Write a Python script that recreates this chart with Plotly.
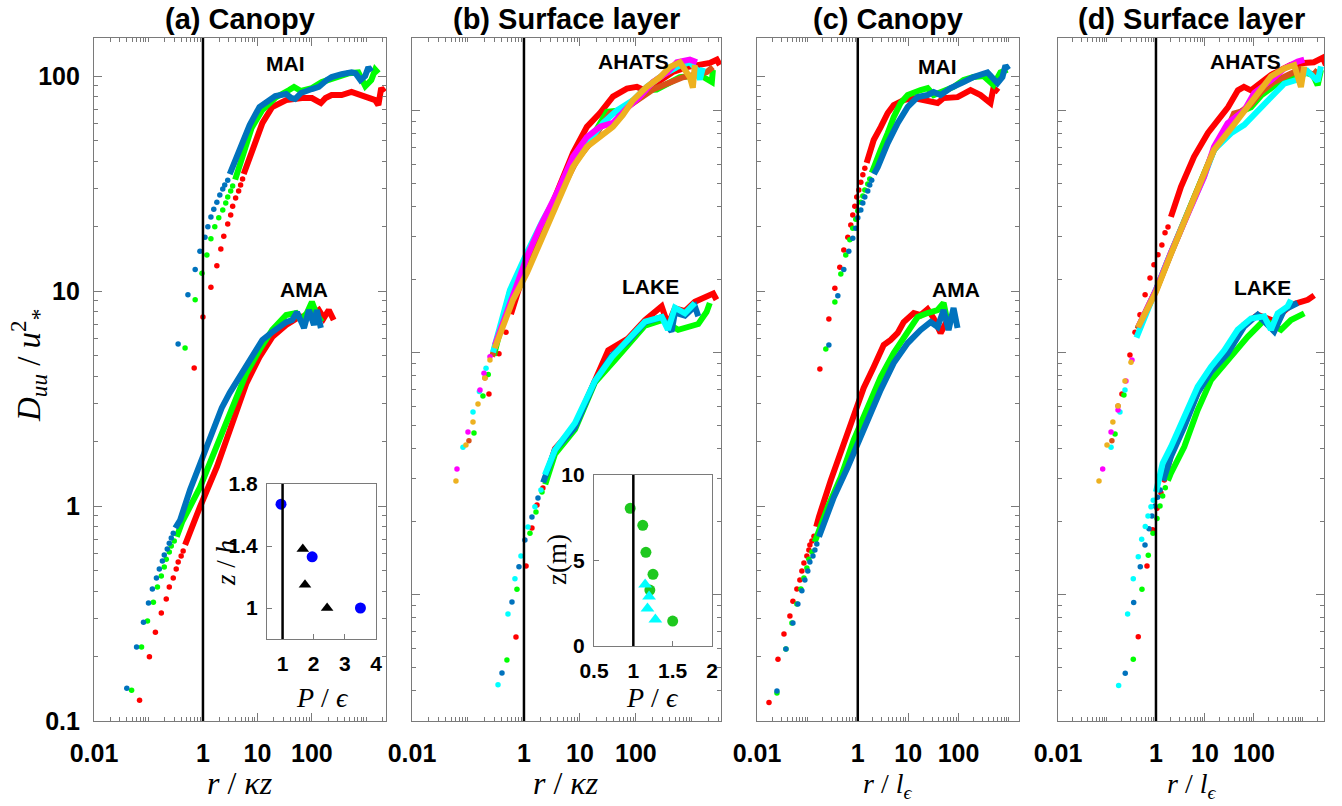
import plotly.graph_objects as go

# ---------------------------------------------------------------------------
# Structure functions D_uu/u*^2 : separate dots at small r, dense band after
# ---------------------------------------------------------------------------

# (a) Canopy, x = r/(kappa z) -- MAI
a_mai_red_dx = [0.69, 1.0, 1.40, 1.80, 2.13, 2.41, 2.85, 3.23, 3.51, 3.98, 4.52, 4.91, 5.34]
a_mai_red_dy = [4.38, 7.57, 10.4, 13.1, 15.7, 18.0, 20.5, 22.6, 24.8, 27.1, 29.2, 31.1, 33.2]
a_mai_red_lx = [5.6, 6.58, 8.8, 12.3, 18.7, 33.7, 65.8, 100, 146, 178, 230, 351, 533, 810, 1087, 1450, 1660, 1870, 2130]
a_mai_red_ly = [35.0, 39.4, 48.8, 60.4, 71.8, 77.3, 79.0, 79.0, 74.9, 79.0, 81.6, 81.6, 84.3, 81.6, 79.8, 77.3, 73.3, 87.9, 84.3]
a_mai_grn_dx = [0.47, 0.72, 0.96, 1.18, 1.40, 1.65, 1.95, 2.31, 2.62, 2.85, 3.23, 3.51]
a_mai_grn_dy = [5.43, 9.1, 12.1, 14.7, 17.5, 19.9, 21.9, 23.8, 25.7, 27.4, 29.2, 30.8]
a_mai_grn_lx = [3.9, 4.33, 5.8, 7.8, 12.3, 22.1, 38.2, 47, 63, 100, 152, 204, 310, 470, 712, 955, 1230, 1450, 1660]
a_mai_grn_ly = [33.0, 35.7, 45.3, 57.3, 69.5, 79.8, 86.1, 89.0, 85.2, 87.9, 93.8, 95.8, 98.9, 103, 104, 89.8, 95.8, 107, 103]
a_mai_blu_dx = [0.35, 0.53, 0.72, 0.88, 1.09, 1.23, 1.40, 1.58, 1.80, 2.04, 2.31, 2.51, 2.85]
a_mai_blu_dy = [5.67, 9.6, 12.6, 15.3, 17.8, 19.9, 22.1, 24.0, 25.9, 28.0, 29.8, 31.1, 32.8]
a_mai_blu_lx = [3.1, 3.5, 4.7, 7.2, 10.9, 16.5, 21.2, 33.7, 41.5, 49, 63, 100, 134, 187, 230, 351, 533, 631, 777, 950, 1087, 1230]
a_mai_blu_ly = [35.0, 37.7, 45.3, 59.2, 71.8, 77.3, 80.7, 82.5, 79.1, 78.2, 83.4, 87.0, 89.0, 95.8, 98.9, 102, 104, 103, 95.8, 100, 110, 105]

# (a) Canopy -- AMA
a_ama_red_dx = [0.0686, 0.104, 0.134, 0.172, 0.212, 0.241, 0.285, 0.323, 0.351, 0.398, 0.433]
a_ama_red_dy = [0.125, 0.199, 0.259, 0.318, 0.369, 0.42, 0.462, 0.509, 0.549, 0.585, 0.618]
a_ama_red_lx = [0.47, 0.533, 0.88, 1.80, 3.51, 6.3, 10.9, 18.7, 33.7, 58, 100, 134, 165, 204, 251]
a_ama_red_ly = [0.66, 0.718, 0.99, 1.52, 2.51, 3.73, 4.93, 6.11, 6.95, 7.57, 7.73, 8.16, 7.48, 8.16, 7.33]
a_ama_grn_dx = [0.049, 0.0746, 0.096, 0.123, 0.146, 0.172, 0.195, 0.212, 0.241, 0.262, 0.297]
a_ama_grn_dy = [0.139, 0.221, 0.292, 0.357, 0.42, 0.472, 0.52, 0.566, 0.611, 0.652, 0.687]
a_ama_grn_lx = [0.33, 0.415, 0.88, 1.80, 3.51, 6.3, 10.9, 18.7, 33.7, 51.2, 63, 81, 100, 123, 152]
a_ama_grn_ly = [0.72, 0.843, 1.22, 1.88, 2.89, 4.16, 5.32, 6.59, 7.73, 7.9, 7.33, 7.9, 8.9, 7.73, 7.17]
a_ama_blu_dx = [0.040, 0.0605, 0.081, 0.100, 0.118, 0.140, 0.158, 0.180, 0.195, 0.221, 0.241, 0.262, 0.285]
a_ama_blu_dy = [0.142, 0.221, 0.288, 0.354, 0.411, 0.462, 0.509, 0.555, 0.592, 0.631, 0.672, 0.710, 0.748]
a_ama_blu_lx = [0.31, 0.382, 0.58, 0.88, 1.52, 2.21, 3.10, 4.71, 8.1, 12.3, 18.7, 33.7, 43.3, 53.3, 71.6, 88.2, 109, 123, 146]
a_ama_blu_ly = [0.79, 0.861, 1.19, 1.55, 2.26, 2.86, 3.36, 3.98, 4.93, 5.92, 6.44, 7.17, 7.33, 7.98, 6.73, 8.16, 6.95, 8.16, 6.73]

# (b) Surface layer, x = r/(kappa z) -- AHATS
b_aha_red_dx = [0.237, 0.358, 0.477]
b_aha_red_dy = [6.73, 9.86, 12.1]
b_aha_red_lx = [0.586, 0.75, 1.13, 2.18, 4.4, 7.5, 13.3, 22.8, 38.8, 69, 104, 133, 201, 303, 458, 815, 1390, 2090, 2790, 3160]
b_aha_red_ly = [14.4, 17.5, 23.4, 33.0, 48.3, 66.7, 85.5, 97.5, 114, 123, 125, 122, 127, 136, 144, 151, 154, 157, 162, 154]
b_aha_grn_dx = [0.128, 0.185, 0.23]
b_aha_grn_dy = [4.65, 6.6, 8.1]
b_aha_grn_lx = [0.29, 0.562, 1.13, 2.18, 4.4, 8.8, 15.1, 30.3, 51.8, 88.3, 157, 234, 611, 1390, 2270, 2370]
b_aha_grn_ly = [9.7, 17.8, 25.0, 34.5, 46.0, 63.5, 75.0, 98.6, 100, 110, 121, 122, 137, 140, 131, 147]
b_aha_cyn_dx = [0.0814, 0.123, 0.16, 0.21]
b_aha_cyn_dy = [4.06, 5.67, 6.9, 8.6]
b_aha_cyn_lx = [0.28, 0.562, 1.13, 2.18, 4.4, 8.8, 15.1, 25.8, 45.8, 88.3, 157, 303, 540, 921, 1230, 1390, 1570]
b_aha_cyn_ly = [10.0, 18.1, 25.8, 35.2, 46.9, 64.3, 75.5, 88.7, 100, 110, 125, 140, 151, 158, 147, 134, 150]
b_aha_mag_dx = [0.0636, 0.1, 0.164, 0.193, 0.247]
b_aha_mag_dy = [3.30, 4.69, 7.0, 8.2, 9.6]
b_aha_mag_lx = [0.303, 0.637, 1.13, 1.93, 3.88, 7.5, 13.3, 22.8, 38.8, 69, 118, 201, 358, 540, 921, 1230]
b_aha_mag_ly = [10.7, 17.6, 24.8, 33.0, 45.6, 64.3, 77.6, 85.5, 88.7, 102, 114, 131, 143, 158, 162, 158]
b_aha_brn_dx = [0.104, 0.201]
b_aha_brn_dy = [4.31, 7.84]
b_aha_brn_lx = [0.27, 0.562, 1.13, 2.18, 4.4, 8.8, 15.1, 34.3, 51.8, 88.3, 201, 690, 1850, 2370]
b_aha_brn_ly = [9.6, 17.3, 24.5, 33.3, 44.8, 62.4, 73.0, 97.5, 98.4, 107, 122, 137, 144, 151]
b_aha_org_dx = [0.061, 0.092, 0.123, 0.151, 0.201, 0.247]
b_aha_org_dy = [2.94, 4.14, 5.16, 6.12, 7.84, 9.3]
b_aha_org_lx = [0.3, 0.637, 1.13, 2.18, 4.4, 7.5, 13.3, 22.8, 38.8, 58.6, 88.3, 157, 268, 405, 611, 921, 1040, 1130]
b_aha_org_ly = [10.4, 16.5, 21.3, 30.0, 42.7, 58.3, 70.6, 77.6, 85.5, 95.7, 110, 125, 137, 151, 158, 137, 124, 154]

# (b) Surface layer -- LAKE
b_lak_red_dx = [0.72, 1.09, 1.39, 1.71, 2.18]
b_lak_red_dy = [0.667, 1.31, 1.88, 2.34, 2.75]
b_lak_red_lx = [2.4, 3.58, 8.15, 18.5, 32, 72, 145, 288, 373, 497, 750, 1130, 1950, 2400, 2750]
b_lak_red_ly = [3.0, 4.0, 4.95, 7.8, 10.2, 11.4, 13.6, 15.5, 13.0, 15.2, 14.8, 16.2, 17.0, 17.5, 16.5]
b_lak_grn_dx = [0.497, 0.75, 1.28, 1.64, 2.10]
b_lak_grn_dy = [0.536, 1.05, 1.79, 2.19, 2.65]
b_lak_grn_lx = [2.4, 3.58, 8.15, 18.5, 42.2, 72, 145, 291, 569, 1300, 1830, 2090]
b_lak_grn_ly = [2.85, 3.8, 4.8, 7.5, 9.3, 10.8, 12.9, 13.6, 12.4, 13.1, 14.7, 16.0]
b_lak_blu_dx = [0.405, 0.611, 0.815, 1.04, 1.39, 1.78]
b_lak_blu_dy = [0.473, 0.93, 1.30, 1.68, 2.09, 2.50]
b_lak_blu_lx = [2.2, 3.58, 8.15, 18.5, 37.3, 72, 145, 291, 434, 497, 750, 1130, 1300]
b_lak_blu_ly = [2.9, 3.95, 4.9, 7.6, 9.7, 11.1, 13.3, 14.0, 12.2, 14.6, 14.2, 15.5, 14.1]
b_lak_cyn_dx = [0.344, 0.518, 0.69, 0.884, 1.18, 1.57, 2.01]
b_lak_cyn_dy = [0.423, 0.83, 1.16, 1.44, 1.90, 2.30, 2.70]
b_lak_cyn_lx = [2.37, 3.58, 8.15, 18.5, 37.3, 72, 145, 291, 373, 497, 750, 1130]
b_lak_cyn_ly = [3.12, 3.95, 5.11, 7.62, 9.57, 11.2, 13.4, 14.0, 12.4, 15.3, 14.5, 16.0]

# (c) Canopy, x = r/l_eps -- MAI
c_mai_red_dx = [0.177, 0.267, 0.351, 0.44, 0.528, 0.634, 0.727, 0.796, 0.873, 0.955, 1.05, 1.15, 1.26, 1.38]
c_mai_red_dy = [4.34, 7.41, 10.3, 12.9, 15.5, 17.8, 20.3, 22.6, 24.8, 27.4, 29.5, 32.1, 34.7, 37.3]
c_mai_red_lx = [1.5, 1.65, 2.07, 2.85, 3.93, 5.16, 8.15, 12.9, 24.3, 38.4, 50.5, 95.5, 173, 273, 430, 493, 620]
c_mai_red_ly = [39.5, 42.0, 50.4, 57.9, 67.3, 73.3, 77.3, 79.0, 77.3, 74.9, 79.0, 79.8, 86.1, 81.6, 74.9, 87.9, 84.3]
c_mai_grn_dx = [0.232, 0.351, 0.461, 0.578, 0.695, 0.796, 0.913, 1.0, 1.15, 1.26, 1.38, 1.58, 1.73]
c_mai_grn_dy = [5.37, 8.9, 12.0, 14.7, 17.3, 19.6, 21.6, 23.6, 25.9, 27.7, 29.5, 31.5, 33.2]
c_mai_grn_lx = [1.9, 2.07, 2.85, 3.93, 5.16, 7.1, 9.8, 17.7, 24.3, 32, 44, 79.6, 126, 198, 313, 493, 679, 933]
c_mai_grn_ly = [35.5, 37.7, 45.3, 54.3, 64.4, 74.9, 81.6, 86.1, 87.9, 81.6, 84.3, 89.0, 95.8, 98.9, 100, 90.8, 104, 107]
c_mai_blu_dx = [0.267, 0.402, 0.528, 0.664, 0.796, 0.913, 1.0, 1.15, 1.26, 1.38, 1.58, 1.73, 1.89]
c_mai_blu_dy = [5.61, 9.5, 12.6, 15.3, 17.6, 19.6, 21.9, 23.8, 25.7, 27.4, 29.2, 31.1, 32.8]
c_mai_blu_lx = [2.1, 2.49, 3.93, 6.2, 9.8, 15.4, 24.3, 32, 44, 69.5, 126, 198, 375, 592, 743, 853, 977]
c_mai_blu_ly = [35.0, 37.7, 48.8, 60.4, 71.8, 79.8, 81.6, 84.3, 81.6, 87.9, 93.8, 98.9, 104, 92.7, 98.9, 112, 107]

# (c) Canopy -- AMA
c_ama_red_dx = [0.0173, 0.0261, 0.0343, 0.045, 0.0516, 0.0619, 0.071, 0.0778, 0.0853, 0.0977, 0.107, 0.112, 0.123, 0.135]
c_ama_red_dy = [0.122, 0.194, 0.254, 0.308, 0.361, 0.411, 0.453, 0.499, 0.543, 0.585, 0.624, 0.659, 0.687, 0.724]
c_ama_red_lx = [0.15, 0.169, 0.292, 0.461, 0.727, 1.0, 1.31, 2.07, 3.27, 4.5, 6.2, 8.15, 12.9, 17.7, 24.3, 32, 44, 60.5]
c_ama_red_ly = [0.8, 0.889, 1.32, 1.77, 2.33, 2.88, 3.54, 4.43, 5.61, 5.92, 6.38, 7.17, 7.9, 7.73, 8.24, 7.48, 6.38, 7.33]
c_ama_grn_dx = [0.0249, 0.0375, 0.0493, 0.0619, 0.0743, 0.0853, 0.0977, 0.107, 0.123]
c_ama_grn_dy = [0.135, 0.216, 0.286, 0.35, 0.411, 0.462, 0.515, 0.566, 0.611]
c_ama_grn_lx = [0.14, 0.161, 0.255, 0.461, 0.834, 1.58, 2.85, 5.16, 9.8, 15.4, 24.3, 38.4, 50.5, 63.4]
c_ama_grn_ly = [0.68, 0.748, 0.99, 1.36, 2.03, 2.88, 3.98, 5.15, 6.38, 7.57, 7.9, 8.16, 8.8, 6.8]
c_ama_blu_dx = [0.0249, 0.0375, 0.0516, 0.0648, 0.0778, 0.0892, 0.102, 0.112, 0.129, 0.141, 0.154]
c_ama_blu_dy = [0.138, 0.216, 0.286, 0.35, 0.403, 0.453, 0.499, 0.549, 0.585, 0.624, 0.665]
c_ama_blu_lx = [0.17, 0.203, 0.335, 0.634, 1.0, 1.58, 2.85, 5.16, 9.8, 17.7, 27.9, 38.4, 50.5, 63.4, 79.6, 95.5]
c_ama_blu_ly = [0.72, 0.798, 1.10, 1.52, 1.96, 2.51, 3.47, 4.62, 5.73, 6.59, 7.17, 6.8, 8.16, 6.59, 8.34, 6.73]

# (d) Surface layer, x = r/l_eps -- AHATS
d_aha_red_dx = [0.202, 0.294, 0.373, 0.471, 0.6, 0.755, 0.91, 1.10, 1.32, 1.53, 1.76]
d_aha_red_dy = [6.73, 9.76, 12.1, 14.3, 17.3, 20.3, 23.0, 25.3, 27.8, 31.2, 33.0]
d_aha_red_lx = [2.02, 3.24, 5.97, 11.5, 18.4, 29.5, 47.1, 62.5, 86.8, 139, 222, 356, 569, 1050, 1670, 2560, 2950]
d_aha_red_ly = [36.3, 48.3, 64.3, 80.7, 91.2, 103, 121, 125, 121, 131, 140, 147, 154, 157, 158, 165, 154]
d_aha_grn_dx = [0.146, 0.222]
d_aha_grn_dy = [4.6, 6.67]
d_aha_grn_lx = [0.42, 1.0, 2.02, 4.5, 9.55, 15.3, 24.4, 39.1, 54.3, 86.8, 139, 256, 494, 910, 1600, 2000, 2330]
d_aha_grn_ly = [12.5, 18.1, 25.8, 37.7, 53.1, 68.7, 77.6, 90.0, 98.8, 103, 115, 126, 135, 145, 140, 127, 147]
d_aha_cyn_dx = [0.121, 0.184, 0.233]
d_aha_cyn_dy = [4.06, 5.67, 7.0]
d_aha_cyn_lx = [0.4, 1.0, 2.02, 4.5, 9.55, 15.3, 34.0, 63.4, 119, 222, 415, 780, 1250, 2000, 2330]
d_aha_cyn_ly = [11.5, 18.3, 25.8, 37.7, 53.1, 68.7, 80.4, 87.1, 100, 114, 129, 134, 145, 132, 152]
d_aha_mag_dx = [0.0817, 0.121, 0.168, 0.244, 0.324]
d_aha_mag_dy = [3.30, 4.69, 5.78, 7.62, 9.3]
d_aha_mag_lx = [0.43, 1.0, 2.02, 4.5, 9.55, 15.3, 29.0, 63.4, 101, 222, 415, 780, 1064]
d_aha_mag_ly = [12.7, 18.1, 25.8, 37.7, 53.1, 70.8, 88.5, 100, 118, 133, 149, 159, 162]
d_aha_brn_dx = [0.126, 0.168]
d_aha_brn_dy = [4.31, 6.01]
d_aha_brn_lx = [0.42, 1.0, 2.02, 4.5, 9.55, 15.3, 24.4, 39.1, 54.3, 86.8, 139, 256, 494, 910, 1640, 2000]
d_aha_brn_ly = [12.5, 18.0, 25.6, 37.5, 53.0, 68.5, 78.0, 97.0, 98.8, 106, 119, 131, 140, 148, 140, 147]
d_aha_org_dx = [0.0687, 0.1, 0.132, 0.168, 0.233, 0.309]
d_aha_org_dy = [2.94, 4.14, 5.16, 6.01, 7.62, 9.1]
d_aha_org_lx = [0.43, 1.0, 2.02, 4.5, 9.55, 15.3, 34.0, 63.4, 119, 222, 415, 664, 910, 1064]
d_aha_org_ly = [12.7, 17.8, 25.5, 37.5, 53.0, 68.7, 84.3, 100, 118, 138, 149, 154, 125, 152]

# (d) Surface layer -- LAKE
d_lak_red_dx = [0.435, 0.655, 0.857, 1.05, 1.26, 1.48]
d_lak_red_dy = [0.668, 1.31, 1.85, 2.27, 2.63, 2.97]
d_lak_red_lx = [1.7, 2.02, 3.72, 7.2, 13.3, 29.5, 62.5, 120, 250, 569, 1260, 1700]
d_lak_red_ly = [3.3, 3.77, 5.0, 6.87, 8.46, 10.2, 13.0, 14.3, 13.5, 15.7, 16.5, 17.2]
d_lak_grn_dx = [0.344, 0.518, 0.697, 0.869, 1.05, 1.21, 1.37, 1.55]
d_lak_grn_dy = [0.54, 1.05, 1.45, 1.79, 2.06, 2.32, 2.55, 2.76]
d_lak_grn_lx = [1.75, 2.02, 3.78, 7.1, 13.3, 34.0, 74.3, 162, 356, 569, 1064]
d_lak_grn_ly = [2.95, 3.17, 4.07, 5.78, 7.69, 9.6, 11.6, 13.6, 12.4, 13.6, 14.5]
d_lak_blu_dx = [0.236, 0.351, 0.478, 0.597, 0.72, 0.828, 0.955, 1.08, 1.22]
d_lak_blu_dy = [0.472, 0.927, 1.30, 1.60, 1.87, 2.11, 2.32, 2.52, 2.70]
d_lak_blu_lx = [1.4, 2.02, 3.78, 7.1, 13.3, 29.0, 63.4, 119, 259, 415, 780]
d_lak_blu_ly = [2.95, 3.71, 4.93, 6.78, 8.32, 9.9, 12.8, 14.3, 12.2, 15.0, 16.0]
d_lak_cyn_dx = [0.173, 0.264, 0.344, 0.435, 0.511, 0.605, 0.687, 0.791, 0.881]
d_lak_cyn_dy = [0.42, 0.83, 1.16, 1.43, 1.69, 1.91, 2.11, 2.30, 2.45]
d_lak_cyn_lx = [1.0, 1.37, 2.02, 3.78, 7.1, 13.3, 24.8, 46.5, 86.8, 162, 222, 305, 487, 569]
d_lak_cyn_ly = [2.65, 3.48, 4.07, 5.42, 7.21, 8.73, 10.2, 12.4, 13.8, 14.1, 12.4, 14.5, 15.5, 16.5]

# Insets: production/dissipation ratio vs height
ina_circ_p = [0.95, 1.95, 3.5]
ina_circ_z = [1.67, 1.33, 1.0]
ina_tri_p = [1.65, 1.72, 2.43]
ina_tri_z = [1.38, 1.15, 1.0]
inb_circ_p = [0.96, 1.12, 1.16, 1.25, 1.21, 1.50]
inb_circ_z = [8.05, 7.06, 5.48, 4.19, 3.27, 1.46]
inb_tri_p = [1.15, 1.20, 1.18, 1.28]
inb_tri_z = [3.6, 2.9, 2.2, 1.55]

# Axis tick labels
main_x_ticks = [0.01, 1, 10, 100]
main_x_text = ["0.01", "1", "10", "100"]
main_y_ticks = [0.1, 1, 10, 100]
main_y_text = ["0.1", "1", "10", "100"]

RED, GREEN, BLUE = "#ff0000", "#00ff00", "#0072bd"
CYAN, MAGENTA, BROWN, ORANGE = "#00ffff", "#ff00ff", "#d95319", "#edb120"

W, H = 1342, 806
fig = go.Figure()


def add_curve(xa, ya, dx, dy, lx, ly, color):
    fig.add_trace(go.Scatter(x=lx, y=ly, mode="lines", xaxis=xa, yaxis=ya,
                             line=dict(color=color, width=6), showlegend=False))
    fig.add_trace(go.Scatter(x=dx, y=dy, mode="markers", xaxis=xa, yaxis=ya,
                             marker=dict(color=color, size=5.5), showlegend=False))


# panel (a)
add_curve("x", "y", a_mai_red_dx, a_mai_red_dy, a_mai_red_lx, a_mai_red_ly, RED)
add_curve("x", "y", a_mai_grn_dx, a_mai_grn_dy, a_mai_grn_lx, a_mai_grn_ly, GREEN)
add_curve("x", "y", a_mai_blu_dx, a_mai_blu_dy, a_mai_blu_lx, a_mai_blu_ly, BLUE)
add_curve("x", "y", a_ama_red_dx, a_ama_red_dy, a_ama_red_lx, a_ama_red_ly, RED)
add_curve("x", "y", a_ama_grn_dx, a_ama_grn_dy, a_ama_grn_lx, a_ama_grn_ly, GREEN)
add_curve("x", "y", a_ama_blu_dx, a_ama_blu_dy, a_ama_blu_lx, a_ama_blu_ly, BLUE)
# panel (b)
add_curve("x2", "y2", b_aha_red_dx, b_aha_red_dy, b_aha_red_lx, b_aha_red_ly, RED)
add_curve("x2", "y2", b_aha_grn_dx, b_aha_grn_dy, b_aha_grn_lx, b_aha_grn_ly, GREEN)
add_curve("x2", "y2", b_aha_brn_dx, b_aha_brn_dy, b_aha_brn_lx, b_aha_brn_ly, BROWN)
add_curve("x2", "y2", b_aha_cyn_dx, b_aha_cyn_dy, b_aha_cyn_lx, b_aha_cyn_ly, CYAN)
add_curve("x2", "y2", b_aha_mag_dx, b_aha_mag_dy, b_aha_mag_lx, b_aha_mag_ly, MAGENTA)
add_curve("x2", "y2", b_aha_org_dx, b_aha_org_dy, b_aha_org_lx, b_aha_org_ly, ORANGE)
add_curve("x2", "y2", b_lak_red_dx, b_lak_red_dy, b_lak_red_lx, b_lak_red_ly, RED)
add_curve("x2", "y2", b_lak_grn_dx, b_lak_grn_dy, b_lak_grn_lx, b_lak_grn_ly, GREEN)
add_curve("x2", "y2", b_lak_blu_dx, b_lak_blu_dy, b_lak_blu_lx, b_lak_blu_ly, BLUE)
add_curve("x2", "y2", b_lak_cyn_dx, b_lak_cyn_dy, b_lak_cyn_lx, b_lak_cyn_ly, CYAN)
# panel (c)
add_curve("x3", "y3", c_mai_red_dx, c_mai_red_dy, c_mai_red_lx, c_mai_red_ly, RED)
add_curve("x3", "y3", c_mai_grn_dx, c_mai_grn_dy, c_mai_grn_lx, c_mai_grn_ly, GREEN)
add_curve("x3", "y3", c_mai_blu_dx, c_mai_blu_dy, c_mai_blu_lx, c_mai_blu_ly, BLUE)
add_curve("x3", "y3", c_ama_red_dx, c_ama_red_dy, c_ama_red_lx, c_ama_red_ly, RED)
add_curve("x3", "y3", c_ama_grn_dx, c_ama_grn_dy, c_ama_grn_lx, c_ama_grn_ly, GREEN)
add_curve("x3", "y3", c_ama_blu_dx, c_ama_blu_dy, c_ama_blu_lx, c_ama_blu_ly, BLUE)
# panel (d)
add_curve("x4", "y4", d_aha_red_dx, d_aha_red_dy, d_aha_red_lx, d_aha_red_ly, RED)
add_curve("x4", "y4", d_aha_grn_dx, d_aha_grn_dy, d_aha_grn_lx, d_aha_grn_ly, GREEN)
add_curve("x4", "y4", d_aha_brn_dx, d_aha_brn_dy, d_aha_brn_lx, d_aha_brn_ly, BROWN)
add_curve("x4", "y4", d_aha_cyn_dx, d_aha_cyn_dy, d_aha_cyn_lx, d_aha_cyn_ly, CYAN)
add_curve("x4", "y4", d_aha_mag_dx, d_aha_mag_dy, d_aha_mag_lx, d_aha_mag_ly, MAGENTA)
add_curve("x4", "y4", d_aha_org_dx, d_aha_org_dy, d_aha_org_lx, d_aha_org_ly, ORANGE)
add_curve("x4", "y4", d_lak_red_dx, d_lak_red_dy, d_lak_red_lx, d_lak_red_ly, RED)
add_curve("x4", "y4", d_lak_grn_dx, d_lak_grn_dy, d_lak_grn_lx, d_lak_grn_ly, GREEN)
add_curve("x4", "y4", d_lak_blu_dx, d_lak_blu_dy, d_lak_blu_lx, d_lak_blu_ly, BLUE)
add_curve("x4", "y4", d_lak_cyn_dx, d_lak_cyn_dy, d_lak_cyn_lx, d_lak_cyn_ly, CYAN)

# insets
fig.add_trace(go.Scatter(x=ina_circ_p, y=ina_circ_z, mode="markers", xaxis="x5", yaxis="y5",
                         marker=dict(color="#0000ff", size=11), showlegend=False))
fig.add_trace(go.Scatter(x=ina_tri_p, y=ina_tri_z, mode="markers", xaxis="x5", yaxis="y5",
                         marker=dict(color="black", size=11, symbol="triangle-up"), showlegend=False))
fig.add_trace(go.Scatter(x=inb_circ_p, y=inb_circ_z, mode="markers", xaxis="x6", yaxis="y6",
                         marker=dict(color="#1ec81e", size=11), showlegend=False))
fig.add_trace(go.Scatter(x=inb_tri_p, y=inb_tri_z, mode="markers", xaxis="x6", yaxis="y6",
                         marker=dict(color=CYAN, size=12, symbol="triangle-up"), showlegend=False))


def px(x):
    return x / W


def py(y):
    return 1 - y / H


def log_minor(lo, hi, extra=()):
    vals = [m * 10.0 ** e for e in range(lo, hi) for m in range(2, 10)]
    return vals + list(extra)


FRAME = "#7a7a7a"
TICKFONT = dict(family="Liberation Sans, Arial", size=25, color="black", weight="bold")
INSETFONT = dict(family="Liberation Sans, Arial", size=21, color="black", weight="bold")
YDOM = [py(721), py(38)]

base = dict(type="log", showgrid=False, zeroline=False, showline=True, linecolor=FRAME,
            linewidth=1.2, mirror="allticks", ticks="inside", ticklen=8, tickcolor=FRAME,
            tickwidth=1, tickfont=TICKFONT, automargin=False)


def xaxis_log(dom, rng, anchor):
    return dict(base, domain=dom, range=rng, anchor=anchor, tickmode="array",
                tickvals=main_x_ticks, ticktext=main_x_text, ticklabelstandoff=10,
                minor=dict(tickmode="array", tickvals=log_minor(-2, 4, (0.1, 1000)),
                           ticks="inside", ticklen=4, tickcolor=FRAME, showgrid=False))


def yaxis_log(rng, anchor, labels):
    return dict(base, domain=YDOM, range=rng, anchor=anchor, tickmode="array",
                tickvals=main_y_ticks, ticktext=main_y_text, showticklabels=labels,
                ticklabelstandoff=8,
                minor=dict(tickmode="array", tickvals=log_minor(-1, 3), ticks="inside",
                           ticklen=4, tickcolor=FRAME, showgrid=False))


lin = dict(showgrid=False, zeroline=False, showline=True, linecolor=FRAME, linewidth=1.2,
           mirror=True, ticks="inside", ticklen=5, tickcolor=FRAME, tickfont=INSETFONT,
           automargin=False)

fig.update_layout(
    width=W, height=H, margin=dict(l=0, r=0, t=0, b=0, pad=0, autoexpand=False),
    paper_bgcolor="white", plot_bgcolor="white", showlegend=False,
    xaxis=xaxis_log([px(94), px(386)], [-2, 3.36], "y"),
    xaxis2=xaxis_log([px(412), px(721)], [-2, 3.52], "y2"),
    xaxis3=xaxis_log([px(757), px(1019)], [-2, 3.2], "y3"),
    xaxis4=xaxis_log([px(1058), px(1324)], [-2, 3.43], "y4"),
    yaxis=yaxis_log([-1, 2.177], "x", True),
    yaxis2=yaxis_log([-0.523, 2.299], "x2", False),
    yaxis3=yaxis_log([-1, 2.177], "x3", False),
    yaxis4=yaxis_log([-0.523, 2.299], "x4", False),
    xaxis5=dict(lin, domain=[px(267), px(376)], range=[0.5, 4], anchor="y5",
                tickvals=[1, 2, 3, 4], ticklabelstandoff=6),
    yaxis5=dict(lin, domain=[py(639), py(484)], range=[0.8, 1.8], anchor="x5",
                tickvals=[1, 1.4, 1.8], ticktext=["1", "1.4", "1.8"], ticklabelstandoff=4),
    xaxis6=dict(lin, domain=[px(594), px(712)], range=[0.5, 2], anchor="y6",
                tickvals=[0.5, 1, 1.5, 2], ticktext=["0.5", "1", "1.5", "2"], ticklabelstandoff=6),
    yaxis6=dict(lin, domain=[py(646), py(475)], range=[0, 10], anchor="x6",
                tickvals=[0, 5, 10], ticklabelstandoff=4),
)

# reference lines at x = 1
for xr, yr in [("x", "y"), ("x2", "y2"), ("x3", "y3"), ("x4", "y4"), ("x5", "y5"), ("x6", "y6")]:
    fig.add_shape(type="line", xref=xr, yref=yr + " domain", x0=1, x1=1, y0=0, y1=1,
                  line=dict(color="black", width=2.5))

BOLD = "Liberation Sans, Arial"
SERIF = "Liberation Serif, Times New Roman"
ann = []


def text(x, y, s, size, family, bold=False, angle=0, yanchor="middle"):
    ann.append(dict(x=px(x), y=py(y), xref="paper", yref="paper", text=s, showarrow=False,
                    textangle=angle, xanchor="center", yanchor=yanchor,
                    font=dict(family=family, size=size, color="black",
                              weight="bold" if bold else "normal")))


# panel titles
text(240, 19, "(a) Canopy", 29, BOLD, True)
text(566, 19, "(b) Surface layer", 29, BOLD, True)
text(888, 19, "(c) Canopy", 29, BOLD, True)
text(1191, 19, "(d) Surface layer", 29, BOLD, True)
# site labels
text(285, 63, "MAI", 21, BOLD, True)
text(304, 289, "AMA", 21, BOLD, True)
text(633, 62, "AHATS", 21, BOLD, True)
text(650, 286, "LAKE", 21, BOLD, True)
text(937, 66, "MAI", 21, BOLD, True)
text(956, 290, "AMA", 21, BOLD, True)
text(1245, 62, "AHATS", 21, BOLD, True)
text(1262, 287, "LAKE", 21, BOLD, True)
# axis titles
text(240, 783, "<i>r</i> / <i>κz</i>", 32, SERIF)
text(566, 783, "<i>r</i> / <i>κz</i>", 32, SERIF)
text(888, 805, "<i>r</i> / <i>l</i><sub><i>ϵ</i></sub>", 28, SERIF, yanchor="bottom")
text(1191, 805, "<i>r</i> / <i>l</i><sub><i>ϵ</i></sub>", 28, SERIF, yanchor="bottom")
text(29, 366, "<i>D</i><sub><i>uu</i></sub> / <i>u</i><sup>2</sup><sub>*</sub>", 33, SERIF, angle=-90)
# inset axis titles
text(322, 697, "<i>P</i> / <i>ϵ</i>", 28, SERIF)
text(652, 697, "<i>P</i> / <i>ϵ</i>", 28, SERIF)
text(226, 563, "<i>z</i> / <i>h</i>", 27, SERIF, angle=-90)
text(557, 560, "z(m)", 27, SERIF, angle=-90)

fig.update_layout(annotations=ann)
fig.write_html("out.html")
